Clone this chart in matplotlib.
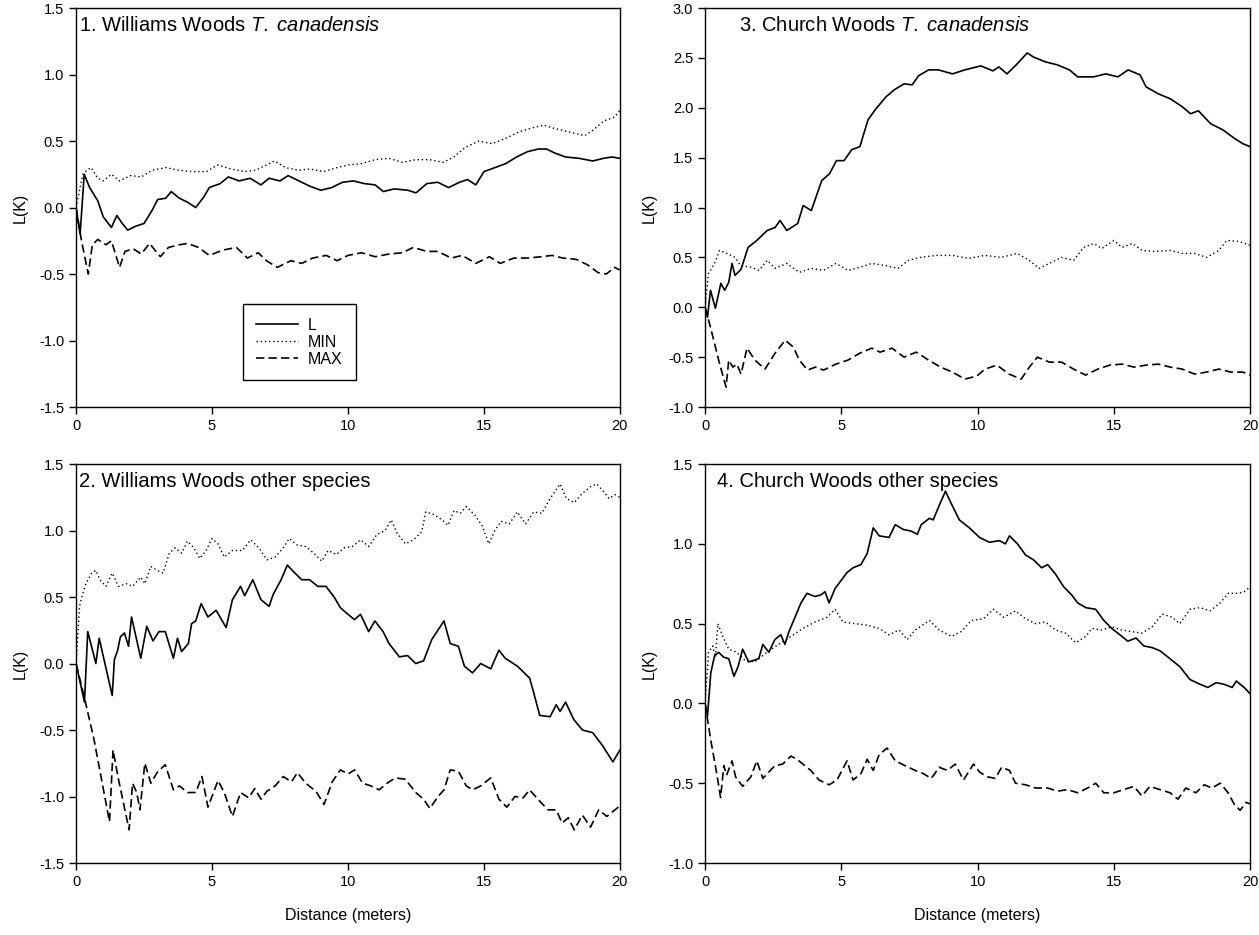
import matplotlib
matplotlib.use('Agg')
import matplotlib.pyplot as plt

plt.rcParams['font.family'] = ['Liberation Sans', 'DejaVu Sans']
plt.rcParams['mathtext.fontset'] = 'custom'
plt.rcParams['mathtext.rm'] = 'Liberation Sans'
plt.rcParams['mathtext.it'] = 'Liberation Sans:italic'

# 1. Williams Woods T. canadensis
p1_L_x = [0, 0.15, 0.3, 0.5, 0.8, 1.0, 1.3, 1.5, 1.7, 1.9, 2.2, 2.5, 2.8, 3.0, 3.3, 3.5, 3.8, 4.1, 4.4, 4.7,
          4.9, 5.3, 5.6, 6.0, 6.4, 6.8, 7.1, 7.5, 7.8, 8.2, 8.6, 9.0, 9.4, 9.8, 10.2, 10.6, 11.0, 11.3, 11.7,
          12.2, 12.5, 12.9, 13.3, 13.7, 14.1, 14.4, 14.7, 15.0, 15.4, 15.8, 16.2, 16.6, 17.0, 17.3, 17.6,
          18.0, 18.5, 19.0, 19.4, 19.7, 20.0]
p1_L_y = [0.0, -0.2, 0.25, 0.15, 0.05, -0.07, -0.15, -0.06, -0.12, -0.17, -0.14, -0.12, -0.02, 0.06, 0.07,
          0.12, 0.07, 0.04, 0.0, 0.08, 0.15, 0.18, 0.23, 0.2, 0.22, 0.17, 0.22, 0.2, 0.24, 0.2, 0.16, 0.13,
          0.15, 0.19, 0.2, 0.18, 0.17, 0.12, 0.14, 0.13, 0.11, 0.18, 0.19, 0.15, 0.19, 0.21, 0.17, 0.27, 0.3,
          0.33, 0.38, 0.42, 0.44, 0.44, 0.41, 0.38, 0.37, 0.35, 0.37, 0.38, 0.37]
p1_min_x = [0, 0.1, 0.25, 0.4, 0.55, 0.8, 1.0, 1.3, 1.6, 2.0, 2.4, 2.8, 3.3, 3.8, 4.3, 4.8, 5.2, 5.7, 6.2,
            6.6, 7.3, 7.7, 8.2, 8.6, 9.1, 9.6, 10.0, 10.5, 11.0, 11.5, 12.0, 12.5, 13.0, 13.5, 13.9, 14.3,
            14.8, 15.3, 15.8, 16.3, 16.8, 17.2, 17.5, 17.9, 18.3, 18.7, 19.0, 19.4, 19.8, 20.0]
p1_min_y = [0.0, 0.1, 0.25, 0.28, 0.3, 0.22, 0.2, 0.25, 0.2, 0.24, 0.23, 0.28, 0.3, 0.28, 0.27, 0.27, 0.32,
            0.29, 0.27, 0.28, 0.35, 0.3, 0.28, 0.29, 0.27, 0.3, 0.32, 0.33, 0.36, 0.37, 0.34, 0.36, 0.36, 0.34,
            0.38, 0.45, 0.5, 0.48, 0.52, 0.57, 0.6, 0.62, 0.6, 0.58, 0.56, 0.54, 0.58, 0.65, 0.68, 0.73]
p1_max_x = [0, 0.2, 0.45, 0.6, 0.8, 1.1, 1.3, 1.6, 1.8, 2.1, 2.4, 2.7, 3.1, 3.4, 3.8, 4.1, 4.5, 4.9, 5.4,
            5.9, 6.3, 6.7, 7.0, 7.4, 7.9, 8.3, 8.7, 9.2, 9.6, 10.0, 10.5, 11.0, 11.5, 12.0, 12.4, 12.9, 13.3,
            13.8, 14.2, 14.7, 15.2, 15.6, 16.1, 16.6, 17.1, 17.5, 17.9, 18.4, 18.8, 19.2, 19.5, 19.8, 20.0]
p1_max_y = [0.0, -0.25, -0.5, -0.28, -0.24, -0.28, -0.25, -0.45, -0.33, -0.31, -0.35, -0.27, -0.37, -0.3,
            -0.28, -0.27, -0.3, -0.36, -0.32, -0.3, -0.38, -0.34, -0.4, -0.45, -0.4, -0.42, -0.38, -0.36, -0.4,
            -0.36, -0.34, -0.37, -0.35, -0.34, -0.3, -0.33, -0.33, -0.38, -0.36, -0.42, -0.37, -0.42, -0.38,
            -0.38, -0.37, -0.36, -0.38, -0.39, -0.43, -0.49, -0.5, -0.45, -0.47]

# 2. Williams Woods other species
p2_L_x = [0, 0.31, 0.43, 0.73, 0.85, 1.33, 1.41, 1.53, 1.63, 1.78, 1.93, 2.04, 2.38, 2.6, 2.83, 3.05, 3.28,
          3.58, 3.73, 3.88, 4.13, 4.25, 4.4, 4.6, 4.85, 5.15, 5.52, 5.75, 6.05, 6.2, 6.5, 6.8, 7.1, 7.25, 7.54,
          7.77, 8.0, 8.3, 8.59, 8.89, 9.19, 9.49, 9.72, 9.94, 10.24, 10.46, 10.76, 10.99, 11.29, 11.51, 11.89,
          12.19, 12.49, 12.78, 13.08, 13.53, 13.76, 14.06, 14.28, 14.58, 14.88, 15.25, 15.55, 15.78, 16.23,
          16.68, 16.83, 17.05, 17.43, 17.66, 17.8, 18.0, 18.3, 18.62, 19.0, 19.37, 19.74, 20.0]
p2_L_y = [0.0, -0.29, 0.24, 0.0, 0.19, -0.24, 0.03, 0.1, 0.2, 0.23, 0.13, 0.35, 0.04, 0.28, 0.17, 0.24, 0.24,
          0.04, 0.19, 0.09, 0.15, 0.3, 0.32, 0.45, 0.35, 0.4, 0.27, 0.48, 0.58, 0.51, 0.63, 0.48, 0.43, 0.52,
          0.63, 0.74, 0.69, 0.63, 0.63, 0.58, 0.58, 0.5, 0.42, 0.38, 0.33, 0.37, 0.24, 0.32, 0.24, 0.15, 0.05,
          0.06, 0.0, 0.02, 0.18, 0.32, 0.15, 0.13, -0.02, -0.07, 0.0, -0.04, 0.1, 0.04, -0.02, -0.11, -0.22,
          -0.39, -0.4, -0.31, -0.36, -0.29, -0.42, -0.5, -0.52, -0.62, -0.74, -0.65]
p2_min_x = [0, 0.13, 0.21, 0.36, 0.58, 0.73, 0.88, 1.1, 1.33, 1.56, 1.86, 2.08, 2.38, 2.53, 2.75, 2.98, 3.2,
            3.43, 3.65, 3.88, 4.1, 4.33, 4.55, 4.78, 5.0, 5.22, 5.45, 5.75, 6.12, 6.42, 6.72, 7.02, 7.32, 7.62,
            7.84, 8.14, 8.44, 8.74, 9.04, 9.27, 9.57, 9.87, 10.16, 10.46, 10.76, 11.06, 11.36, 11.59, 11.81,
            12.11, 12.41, 12.71, 12.86, 13.16, 13.46, 13.68, 13.9, 14.13, 14.35, 14.65, 14.95, 15.18, 15.4,
            15.63, 15.93, 16.23, 16.53, 16.83, 17.13, 17.43, 17.8, 18.03, 18.32, 18.62, 18.92, 19.15, 19.37,
            19.6, 19.82, 20.0]
p2_min_y = [0.0, 0.43, 0.5, 0.6, 0.68, 0.7, 0.63, 0.58, 0.68, 0.58, 0.6, 0.58, 0.65, 0.6, 0.73, 0.7, 0.68,
            0.83, 0.87, 0.83, 0.92, 0.87, 0.79, 0.85, 0.94, 0.9, 0.8, 0.85, 0.85, 0.93, 0.87, 0.78, 0.8, 0.87,
            0.94, 0.89, 0.88, 0.83, 0.77, 0.85, 0.82, 0.87, 0.88, 0.93, 0.88, 0.97, 1.0, 1.08, 0.98, 0.9, 0.93,
            0.99, 1.14, 1.12, 1.08, 1.04, 1.15, 1.13, 1.18, 1.12, 1.03, 0.9, 1.0, 1.07, 1.05, 1.14, 1.05, 1.14,
            1.13, 1.24, 1.35, 1.24, 1.21, 1.28, 1.33, 1.35, 1.3, 1.24, 1.27, 1.25]
p2_max_x = [0, 0.31, 0.66, 1.23, 1.36, 1.56, 1.95, 2.08, 2.23, 2.35, 2.53, 2.75, 2.98, 3.28, 3.58, 3.8, 4.1,
            4.4, 4.63, 4.85, 5.22, 5.45, 5.75, 6.05, 6.35, 6.57, 6.8, 7.02, 7.32, 7.62, 7.92, 8.14, 8.44, 8.82,
            9.12, 9.42, 9.72, 10.01, 10.24, 10.54, 10.84, 11.14, 11.44, 11.74, 12.11, 12.49, 12.78, 13.01,
            13.31, 13.53, 13.76, 14.06, 14.35, 14.58, 14.88, 15.25, 15.55, 15.84, 16.14, 16.44, 16.68, 16.98,
            17.35, 17.66, 17.87, 18.1, 18.32, 18.62, 18.92, 19.22, 19.52, 19.82, 20.0]
p2_max_y = [0.0, -0.26, -0.57, -1.19, -0.65, -0.87, -1.25, -0.9, -0.97, -1.1, -0.75, -0.9, -0.82, -0.76,
            -0.95, -0.92, -0.97, -0.97, -0.85, -1.08, -0.88, -0.97, -1.15, -0.97, -1.01, -0.94, -1.02, -0.96,
            -0.92, -0.85, -0.89, -0.82, -0.9, -0.96, -1.06, -0.89, -0.8, -0.83, -0.8, -0.9, -0.92, -0.95, -0.9,
            -0.86, -0.87, -0.97, -1.02, -1.09, -1.0, -0.95, -0.8, -0.81, -0.92, -0.95, -0.92, -0.86, -1.02,
            -1.08, -1.0, -1.01, -0.95, -1.02, -1.1, -1.1, -1.2, -1.16, -1.25, -1.14, -1.23, -1.1, -1.15, -1.1,
            -1.07]

# 3. Church Woods T. canadensis
p3_L_x = [0, 0.09, 0.2, 0.38, 0.58, 0.72, 0.87, 0.99, 1.1, 1.32, 1.58, 1.9, 2.28, 2.57, 2.75, 3.0, 3.4, 3.6,
          3.9, 4.28, 4.57, 4.82, 5.1, 5.38, 5.68, 5.98, 6.27, 6.64, 6.94, 7.3, 7.6, 7.83, 8.2, 8.56, 9.08,
          9.53, 10.12, 10.56, 10.78, 11.08, 11.45, 11.82, 12.04, 12.49, 12.93, 13.37, 13.67, 14.26, 14.7,
          15.15, 15.52, 15.96, 16.18, 16.63, 17.07, 17.51, 17.81, 18.1, 18.55, 18.99, 19.44, 19.73, 20.0]
p3_L_y = [0.0, -0.1, 0.17, -0.01, 0.24, 0.17, 0.25, 0.44, 0.32, 0.38, 0.6, 0.67, 0.77, 0.8, 0.87, 0.77, 0.84,
          1.02, 0.97, 1.27, 1.34, 1.47, 1.47, 1.58, 1.61, 1.88, 1.99, 2.11, 2.18, 2.24, 2.23, 2.32, 2.38, 2.38,
          2.34, 2.38, 2.42, 2.37, 2.41, 2.34, 2.44, 2.55, 2.51, 2.46, 2.43, 2.38, 2.31, 2.31, 2.34, 2.31,
          2.38, 2.33, 2.21, 2.14, 2.09, 2.01, 1.94, 1.97, 1.84, 1.78, 1.69, 1.64, 1.61]
p3_min_x = [0, 0.13, 0.35, 0.53, 0.8, 1.1, 1.3, 1.7, 1.98, 2.28, 2.57, 3.0, 3.46, 3.9, 4.35, 4.8, 5.24, 5.68,
            6.12, 6.57, 7.08, 7.46, 7.9, 8.49, 9.08, 9.67, 10.27, 10.86, 11.45, 11.9, 12.26, 12.63, 13.08,
            13.52, 13.89, 14.26, 14.56, 15.0, 15.3, 15.67, 16.04, 16.48, 17.07, 17.51, 17.96, 18.4, 18.85,
            19.14, 19.59, 20.0]
p3_min_y = [0.0, 0.34, 0.44, 0.57, 0.54, 0.5, 0.42, 0.4, 0.37, 0.47, 0.39, 0.44, 0.35, 0.39, 0.37, 0.44,
            0.37, 0.4, 0.44, 0.42, 0.39, 0.47, 0.5, 0.52, 0.52, 0.49, 0.52, 0.5, 0.54, 0.47, 0.39, 0.44, 0.5,
            0.47, 0.6, 0.64, 0.59, 0.67, 0.6, 0.64, 0.57, 0.56, 0.57, 0.54, 0.54, 0.5, 0.57, 0.67, 0.66, 0.62]
p3_max_x = [0, 0.2, 0.5, 0.77, 0.87, 1.02, 1.17, 1.32, 1.54, 1.83, 2.2, 2.57, 2.94, 3.24, 3.46, 3.76, 4.05,
            4.35, 4.8, 5.24, 5.68, 6.12, 6.42, 6.86, 7.3, 7.75, 8.2, 8.64, 9.08, 9.53, 9.97, 10.27, 10.71,
            11.15, 11.6, 11.9, 12.19, 12.63, 13.08, 13.52, 13.96, 14.41, 14.85, 15.3, 15.74, 16.18, 16.63,
            17.07, 17.51, 17.96, 18.4, 18.85, 19.29, 19.73, 20.0]
p3_max_y = [0.0, -0.2, -0.53, -0.8, -0.53, -0.6, -0.57, -0.67, -0.41, -0.53, -0.62, -0.46, -0.33, -0.4,
            -0.53, -0.63, -0.6, -0.63, -0.57, -0.53, -0.46, -0.41, -0.45, -0.41, -0.5, -0.45, -0.53, -0.6,
            -0.65, -0.72, -0.69, -0.62, -0.58, -0.67, -0.72, -0.6, -0.5, -0.55, -0.55, -0.62, -0.68, -0.62,
            -0.58, -0.57, -0.6, -0.58, -0.57, -0.6, -0.62, -0.67, -0.65, -0.62, -0.65, -0.65, -0.68]

# 4. Church Woods other species
p4_L_x = [0, 0.09, 0.21, 0.35, 0.5, 0.68, 0.87, 1.06, 1.21, 1.38, 1.6, 1.97, 2.12, 2.34, 2.56, 2.78, 2.93,
          3.08, 3.3, 3.52, 3.74, 4.03, 4.25, 4.4, 4.55, 4.77, 4.99, 5.21, 5.43, 5.72, 5.95, 6.17, 6.39, 6.75,
          6.98, 7.27, 7.56, 7.79, 7.93, 8.23, 8.37, 8.59, 8.82, 9.04, 9.33, 9.7, 10.07, 10.43, 10.8, 11.02,
          11.17, 11.46, 11.76, 12.05, 12.35, 12.57, 12.86, 13.16, 13.45, 13.67, 13.97, 14.33, 14.63, 14.92,
          15.22, 15.51, 15.81, 16.1, 16.4, 16.69, 17.06, 17.42, 17.79, 18.16, 18.45, 18.75, 19.04, 19.34,
          19.49, 19.78, 20.0]
p4_L_y = [0.0, -0.08, 0.19, 0.3, 0.32, 0.29, 0.28, 0.17, 0.23, 0.34, 0.26, 0.28, 0.37, 0.32, 0.4, 0.43, 0.37,
          0.45, 0.54, 0.63, 0.69, 0.67, 0.68, 0.7, 0.63, 0.72, 0.77, 0.82, 0.85, 0.87, 0.94, 1.1, 1.05, 1.04,
          1.12, 1.09, 1.08, 1.06, 1.12, 1.16, 1.15, 1.24, 1.33, 1.25, 1.15, 1.1, 1.04, 1.01, 1.02, 1.0, 1.05,
          1.0, 0.93, 0.9, 0.85, 0.87, 0.81, 0.73, 0.68, 0.63, 0.6, 0.59, 0.52, 0.47, 0.43, 0.39, 0.41, 0.36,
          0.35, 0.33, 0.28, 0.23, 0.15, 0.12, 0.1, 0.13, 0.12, 0.1, 0.14, 0.1, 0.06]
p4_min_x = [0, 0.13, 0.28, 0.38, 0.47, 0.65, 0.87, 1.16, 1.46, 1.82, 2.27, 2.7, 3.15, 3.59, 4.03, 4.47, 4.77,
            5.06, 5.5, 5.95, 6.39, 6.75, 7.12, 7.42, 7.71, 8.23, 8.59, 9.04, 9.4, 9.77, 10.21, 10.58, 10.95,
            11.39, 11.76, 12.13, 12.49, 12.86, 13.23, 13.6, 13.97, 14.19, 14.55, 14.92, 15.29, 15.66, 16.03,
            16.4, 16.77, 17.13, 17.42, 17.79, 18.16, 18.53, 18.9, 19.19, 19.56, 19.78, 20.0]
p4_min_y = [0.0, 0.32, 0.36, 0.29, 0.5, 0.42, 0.34, 0.32, 0.27, 0.26, 0.32, 0.37, 0.42, 0.47, 0.51, 0.54,
            0.59, 0.51, 0.5, 0.49, 0.47, 0.43, 0.46, 0.4, 0.46, 0.52, 0.46, 0.42, 0.45, 0.52, 0.53, 0.59, 0.54,
            0.58, 0.53, 0.5, 0.51, 0.46, 0.44, 0.38, 0.42, 0.47, 0.46, 0.48, 0.46, 0.45, 0.44, 0.48, 0.56, 0.54,
            0.5, 0.59, 0.6, 0.58, 0.63, 0.69, 0.69, 0.7, 0.73]
p4_max_x = [0, 0.21, 0.43, 0.57, 0.69, 0.79, 0.99, 1.12, 1.38, 1.68, 1.9, 2.12, 2.34, 2.56, 2.85, 3.15, 3.37,
            3.59, 3.88, 4.18, 4.55, 4.84, 5.21, 5.43, 5.72, 5.95, 6.17, 6.39, 6.68, 6.98, 7.34, 7.71, 8.01,
            8.3, 8.59, 8.89, 9.18, 9.48, 9.85, 10.07, 10.36, 10.65, 10.88, 11.17, 11.39, 11.76, 12.13, 12.57,
            12.93, 13.3, 13.67, 14.04, 14.33, 14.63, 15.0, 15.36, 15.73, 16.03, 16.32, 16.69, 17.06, 17.35,
            17.64, 18.01, 18.31, 18.6, 18.9, 19.19, 19.41, 19.63, 19.85, 20.0]
p4_max_y = [0.0, -0.23, -0.44, -0.59, -0.39, -0.45, -0.36, -0.46, -0.52, -0.46, -0.36, -0.47, -0.43, -0.39,
            -0.38, -0.33, -0.35, -0.38, -0.42, -0.48, -0.51, -0.48, -0.36, -0.48, -0.44, -0.35, -0.42, -0.32,
            -0.28, -0.36, -0.39, -0.42, -0.44, -0.47, -0.4, -0.42, -0.38, -0.48, -0.38, -0.43, -0.46, -0.47,
            -0.4, -0.42, -0.5, -0.51, -0.53, -0.53, -0.55, -0.54, -0.56, -0.53, -0.5, -0.56, -0.56, -0.54,
            -0.52, -0.58, -0.52, -0.54, -0.56, -0.6, -0.53, -0.56, -0.51, -0.53, -0.5, -0.56, -0.63, -0.67,
            -0.62, -0.63]

titles = ['1. Williams Woods $\\mathit{T.}$ $\\mathit{canadensis}$', '2. Williams Woods other species',
          '3. Church Woods $\\mathit{T.}$ $\\mathit{canadensis}$', '4. Church Woods other species']
panels = [
    (p1_L_x, p1_L_y, p1_min_x, p1_min_y, p1_max_x, p1_max_y, (-1.5, 1.5), [-1.5, -1.0, -0.5, 0.0, 0.5, 1.0, 1.5]),
    (p2_L_x, p2_L_y, p2_min_x, p2_min_y, p2_max_x, p2_max_y, (-1.5, 1.5), [-1.5, -1.0, -0.5, 0.0, 0.5, 1.0, 1.5]),
    (p3_L_x, p3_L_y, p3_min_x, p3_min_y, p3_max_x, p3_max_y, (-1.0, 3.0), [-1.0, -0.5, 0.0, 0.5, 1.0, 1.5, 2.0, 2.5, 3.0]),
    (p4_L_x, p4_L_y, p4_min_x, p4_min_y, p4_max_x, p4_max_y, (-1.0, 1.5), [-1.0, -0.5, 0.0, 0.5, 1.0, 1.5]),
]
rects = [[0.0604, 0.5647, 0.432, 0.4267], [0.0604, 0.077, 0.432, 0.4267],
         [0.56, 0.5647, 0.433, 0.4267], [0.56, 0.077, 0.433, 0.4267]]
title_x = [0.006, 0.006, 0.062, 0.022]

fig = plt.figure(figsize=(12.59, 9.35), dpi=100)

for i, (lx, ly, mnx, mny, mxx, mxy, ylim, yt) in enumerate(panels):
    ax = fig.add_axes(rects[i])
    ax.plot(lx, ly, color='black', lw=1.2, label='L')
    ax.plot(mnx, mny, color='black', lw=1.0, ls=(0, (1, 2)), label='MIN')
    ax.plot(mxx, mxy, color='black', lw=1.2, ls=(0, (5, 2.5)), label='MAX')
    ax.set_xlim(0, 20)
    ax.set_ylim(*ylim)
    ax.set_xticks([0, 5, 10, 15, 20])
    ax.set_yticks(yt)
    ax.set_yticklabels(['%.1f' % v for v in yt])
    ax.tick_params(direction='out', length=5, width=1, labelsize=10.5, colors='black')
    for s in ax.spines.values():
        s.set_linewidth(1.0)
    ax.set_ylabel('L(K)', fontsize=11.5, labelpad=8)
    if i in (1, 3):
        ax.set_xlabel('Distance (meters)', fontsize=11.5, labelpad=14)
    ax.text(title_x[i], 0.957, titles[i], transform=ax.transAxes, fontsize=14.5, va='center', ha='left')
    if i == 0:
        ax.legend(loc='lower left', bbox_to_anchor=(0.298, 0.055), fancybox=False, edgecolor='black',
                  framealpha=1, fontsize=11.5, handlelength=2.6, labelspacing=0.12, borderpad=0.85,
                  handletextpad=0.6, borderaxespad=0.3).get_frame().set_linewidth(1.0)

fig.savefig('out.png', dpi=100)
